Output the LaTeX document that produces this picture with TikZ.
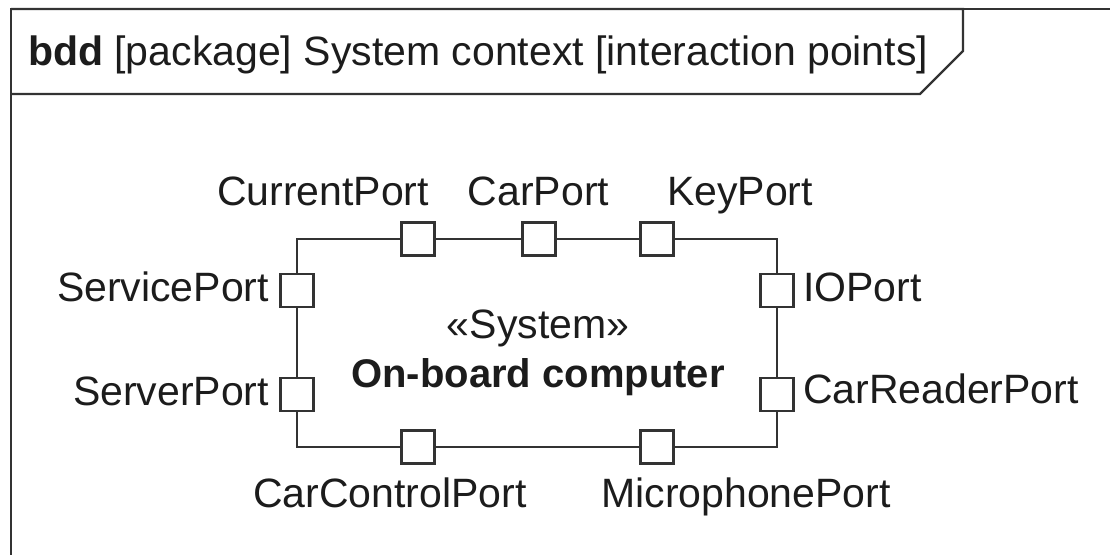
\documentclass[tikz,border=0pt]{standalone}
\usepackage{fontspec}
\setmainfont{Liberation Sans}
\definecolor{ink}{HTML}{333333}
\definecolor{txt}{HTML}{1C1C1C}
\begin{document}
\begin{tikzpicture}[x=1pt,y=-1pt,
  edge/.style={draw=ink, line width=2.2pt, line join=miter},
  block/.style={draw=ink, line width=2.2pt, minimum width=480pt, minimum height=208pt, inner sep=0pt, outer sep=0pt},
  port/.style={draw=ink, line width=2.2pt, fill=white, minimum size=33pt, inner sep=0pt, outer sep=0pt},
  lbl/.style={inner sep=0pt, outer sep=0pt, font=\fontsize{41}{49}\selectfont, text=txt},
]
\useasboundingbox (0,0) rectangle (1110,554);
\clip (0,0) rectangle (1110,554);

% diagram frame and its heading tab
\draw[edge] (11,600) -- (11,9) -- (1130,9);
\draw[edge] (11,9) -- (963,9) -- (963,51) -- (920,94) -- (11,94);
\node[lbl, anchor=base west] (title) at (28,65)
  {\textbf{bdd} [package] System context [interaction points]};

% the system block
\node[block] (sys) at (537,343) {};
\node[lbl, anchor=base] (stereo) at (538,338) {«System»};
\node[lbl, anchor=base, font=\fontsize{40}{48}\selectfont\bfseries] (name) at (538,387) {On-board computer};

% ports on the block boundary
\node[port] (pCurrent) at (418,239) {};
\node[port] (pCar) at (539,239) {};
\node[port] (pKey) at (657,239) {};
\node[port] (pService) at (297,290.5) {};
\node[port] (pServer) at (297,394.5) {};
\node[port] (pIO) at (777,290.5) {};
\node[port] (pCarReader) at (777,394.5) {};
\node[port] (pCarControl) at (418,447) {};
\node[port] (pMicrophone) at (657,447) {};

% port names
\node[lbl, anchor=base] (lCurrent) at (323,205) {CurrentPort};
\node[lbl, anchor=base] (lCar) at (538.5,205) {CarPort};
\node[lbl, anchor=base] (lKey) at (740,205) {KeyPort};
\node[lbl, anchor=base east] (lService) at (269,301.5) {ServicePort};
\node[lbl, anchor=base east] (lServer) at (269,405.5) {ServerPort};
\node[lbl, anchor=base west] (lIO) at (803,301.5) {IOPort};
\node[lbl, anchor=base west] (lCarReader) at (803,403.5) {CarReaderPort};
\node[lbl, anchor=base] (lCarControl) at (390,507) {CarControlPort};
\node[lbl, anchor=base] (lMicrophone) at (746,507) {MicrophonePort};
\end{tikzpicture}
\end{document}
